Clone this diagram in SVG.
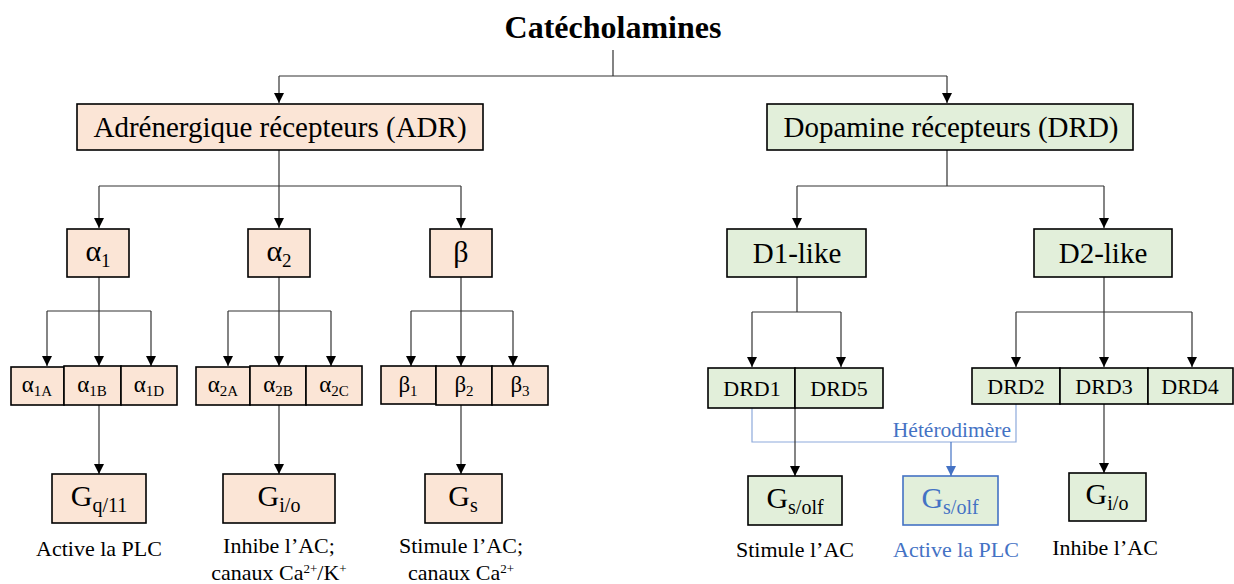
<svg xmlns="http://www.w3.org/2000/svg" width="1234" height="584" viewBox="0 0 1234 584">
<style>
text{font-family:"Liberation Serif","Times New Roman",serif;fill:#000}
.t{font-size:32px;font-weight:bold}
.big{font-size:29px}
.gk{font-size:30px}
.dl{font-size:29px}
.sm{font-size:23px}
.drd{font-size:22px}
.g{font-size:30px}
.d{font-size:22px}
.blue{fill:#4472c4}
.pe rect{fill:#fbe5d6;stroke:#000;stroke-width:1.6}
.gr rect{fill:#e2efda;stroke:#000;stroke-width:1.6}
.bl rect{fill:#e2efda;stroke:#4472c4;stroke-width:1.6}
.c path{fill:none;stroke:#333;stroke-width:1.2}
.c path.b{stroke:#8eaadb}
.c path.bd{stroke:#4472c4}
</style>
<defs>
<marker id="ah" markerUnits="userSpaceOnUse" markerWidth="10" markerHeight="10" refX="10" refY="5" orient="auto"><path d="M0,0 L10,5 L0,10 z" fill="#000"/></marker>
<marker id="ahb" markerUnits="userSpaceOnUse" markerWidth="10" markerHeight="10" refX="10" refY="5" orient="auto"><path d="M0,0 L10,5 L0,10 z" fill="#4472c4"/></marker>
</defs>
<rect width="1234" height="584" fill="#fff"/>
<g id="title"><text class="t" x="613" y="38" text-anchor="middle">Catécholamines</text></g>
<g id="connectors" class="c">
<path d="M613,50 V76 M279,76 H947"/>
<path d="M279,76 V103" marker-end="url(#ah)"/>
<path d="M947,76 V103" marker-end="url(#ah)"/>
<path d="M279,150 V186 M99,186 H461"/>
<path d="M99,186 V228" marker-end="url(#ah)"/>
<path d="M279,186 V228" marker-end="url(#ah)"/>
<path d="M461,186 V228" marker-end="url(#ah)"/>
<path d="M99,277 V311 M47,311 H151"/>
<path d="M47,311 V366" marker-end="url(#ah)"/>
<path d="M99,311 V366" marker-end="url(#ah)"/>
<path d="M151,311 V366" marker-end="url(#ah)"/>
<path d="M279,277 V311 M228,311 H331"/>
<path d="M228,311 V366" marker-end="url(#ah)"/>
<path d="M279,311 V366" marker-end="url(#ah)"/>
<path d="M331,311 V366" marker-end="url(#ah)"/>
<path d="M461,277 V311 M411,311 H513"/>
<path d="M411,311 V366" marker-end="url(#ah)"/>
<path d="M461,311 V366" marker-end="url(#ah)"/>
<path d="M513,311 V366" marker-end="url(#ah)"/>
<path d="M99,405 V474" marker-end="url(#ah)"/>
<path d="M279,405 V474" marker-end="url(#ah)"/>
<path d="M461,405 V474" marker-end="url(#ah)"/>
<path d="M947,150 V186 M797,186 H1104"/>
<path d="M797,186 V228" marker-end="url(#ah)"/>
<path d="M1104,186 V228" marker-end="url(#ah)"/>
<path d="M797,277 V312 M752,312 H841"/>
<path d="M752,312 V367" marker-end="url(#ah)"/>
<path d="M841,312 V367" marker-end="url(#ah)"/>
<path d="M1104,277 V312 M1016,312 H1192"/>
<path d="M1016,312 V367" marker-end="url(#ah)"/>
<path d="M1104,312 V367" marker-end="url(#ah)"/>
<path d="M1192,312 V367" marker-end="url(#ah)"/>
<path class="b" d="M752,408 V442 H1016 V404"/>
<path class="bd" d="M951,442 V476" marker-end="url(#ahb)"/>
<path d="M795,408 V476" marker-end="url(#ah)"/>
<path d="M1104,404 V473" marker-end="url(#ah)"/>
</g>
<g id="adr" class="pe"><rect x="77" y="104" width="406" height="46"/><text class="big" x="280" y="137" text-anchor="middle">Adrénergique récepteurs (ADR)</text></g>
<g id="drd" class="gr"><rect x="767" y="104" width="366" height="46"/><text class="big" x="951" y="137" text-anchor="middle">Dopamine récepteurs (DRD)</text></g>
<g id="a1" class="pe"><rect x="67" y="229" width="62" height="48"/><text class="gk" x="98" y="261" text-anchor="middle">α<tspan font-size="19" dy="6">1</tspan></text></g>
<g id="a2" class="pe"><rect x="248" y="229" width="62" height="48"/><text class="gk" x="279" y="261" text-anchor="middle">α<tspan font-size="19" dy="6">2</tspan></text></g>
<g id="b" class="pe"><rect x="430" y="229" width="62" height="48"/><text class="gk" x="461" y="262" text-anchor="middle">β</text></g>
<g id="a1a" class="pe"><rect x="11" y="367" width="53" height="38"/><text class="sm" x="37" y="392" text-anchor="middle">α<tspan font-size="15" dy="4">1A</tspan></text></g>
<g id="a1b" class="pe"><rect x="64" y="366" width="57" height="39"/><text class="sm" x="92" y="392" text-anchor="middle">α<tspan font-size="15" dy="4">1B</tspan></text></g>
<g id="a1d" class="pe"><rect x="121" y="366" width="56" height="39"/><text class="sm" x="149" y="392" text-anchor="middle">α<tspan font-size="15" dy="4">1D</tspan></text></g>
<g id="a2a" class="pe"><rect x="196" y="367" width="54" height="38"/><text class="sm" x="223" y="392" text-anchor="middle">α<tspan font-size="15" dy="4">2A</tspan></text></g>
<g id="a2b" class="pe"><rect x="250" y="366" width="56" height="39"/><text class="sm" x="278" y="392" text-anchor="middle">α<tspan font-size="15" dy="4">2B</tspan></text></g>
<g id="a2c" class="pe"><rect x="306" y="366" width="56" height="39"/><text class="sm" x="334" y="392" text-anchor="middle">α<tspan font-size="15" dy="4">2C</tspan></text></g>
<g id="b1" class="pe"><rect x="381" y="366" width="55" height="38"/><text class="sm" x="408" y="392" text-anchor="middle">β<tspan font-size="15" dy="4">1</tspan></text></g>
<g id="b2" class="pe"><rect x="436" y="366" width="56" height="39"/><text class="sm" x="464" y="392" text-anchor="middle">β<tspan font-size="15" dy="4">2</tspan></text></g>
<g id="b3" class="pe"><rect x="492" y="366" width="56" height="39"/><text class="sm" x="520" y="392" text-anchor="middle">β<tspan font-size="15" dy="4">3</tspan></text></g>
<g id="gq" class="pe"><rect x="52" y="474" width="94" height="49"/><text class="g" x="99" y="506" text-anchor="middle">G<tspan font-size="20" dy="6">q/11</tspan></text></g>
<g id="gio" class="pe"><rect x="223" y="474" width="112" height="49"/><text class="g" x="279" y="506" text-anchor="middle">G<tspan font-size="20" dy="6">i/o</tspan></text></g>
<g id="gs" class="pe"><rect x="425" y="474" width="77" height="49"/><text class="g" x="463" y="506" text-anchor="middle">G<tspan font-size="20" dy="6">s</tspan></text></g>
<g id="d1like" class="gr"><rect x="727" y="229" width="139" height="48"/><text class="dl" x="797" y="263" text-anchor="middle">D1-like</text></g>
<g id="d2like" class="gr"><rect x="1034" y="229" width="138" height="48"/><text class="dl" x="1103" y="263" text-anchor="middle">D2-like</text></g>
<g id="drd1" class="gr"><rect x="708" y="368" width="87" height="40"/><text class="drd" x="752" y="396" text-anchor="middle">DRD1</text></g>
<g id="drd5" class="gr"><rect x="795" y="368" width="88" height="40"/><text class="drd" x="839" y="396" text-anchor="middle">DRD5</text></g>
<g id="drd2" class="gr"><rect x="972" y="368" width="88" height="36"/><text class="drd" x="1016" y="394" text-anchor="middle">DRD2</text></g>
<g id="drd3" class="gr"><rect x="1060" y="368" width="88" height="36"/><text class="drd" x="1104" y="394" text-anchor="middle">DRD3</text></g>
<g id="drd4" class="gr"><rect x="1148" y="368" width="85" height="36"/><text class="drd" x="1190" y="394" text-anchor="middle">DRD4</text></g>
<g id="gsolf1" class="gr"><rect x="748" y="476" width="94" height="49"/><text class="g" x="795" y="508" text-anchor="middle">G<tspan font-size="20" dy="6">s/olf</tspan></text></g>
<g id="gsolf2" class="bl"><rect x="903" y="476" width="95" height="49"/><text class="g blue" x="950" y="508" text-anchor="middle">G<tspan font-size="20" dy="6">s/olf</tspan></text></g>
<g id="gio2" class="gr"><rect x="1069" y="473" width="77" height="48"/><text class="g" x="1107" y="504" text-anchor="middle">G<tspan font-size="20" dy="6">i/o</tspan></text></g>
<g id="labels">
<text class="d" x="99" y="556" text-anchor="middle">Active la PLC</text>
<text class="d" x="279" y="553" text-anchor="middle">Inhibe l’AC;</text>
<text class="d" x="279" y="580" text-anchor="middle">canaux Ca<tspan font-size="13" dy="-7">2+</tspan><tspan dy="7">/K</tspan><tspan font-size="13" dy="-7">+</tspan></text>
<text class="d" x="461" y="553" text-anchor="middle">Stimule l’AC;</text>
<text class="d" x="461" y="580" text-anchor="middle">canaux Ca<tspan font-size="13" dy="-7">2+</tspan></text>
<text class="d" x="795" y="557" text-anchor="middle">Stimule l’AC</text>
<text class="d blue" x="956" y="557" text-anchor="middle">Active la PLC</text>
<text class="d" x="1105" y="555" text-anchor="middle">Inhibe l’AC</text>
<text class="d blue" x="1011" y="437" text-anchor="end" style="font-size:21.5px">Hétérodimère</text>
</g>
</svg>
